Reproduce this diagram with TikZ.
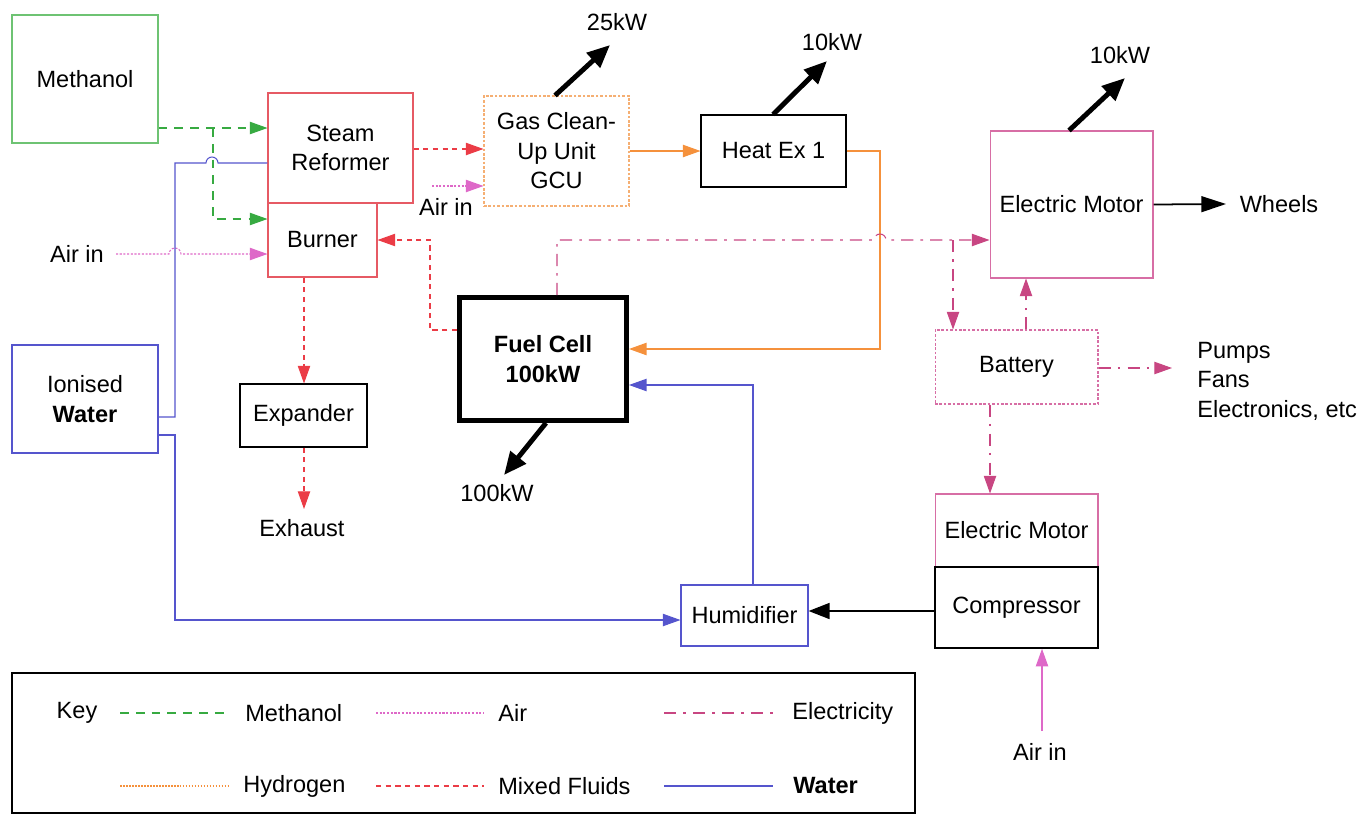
\documentclass[tikz,border=0pt]{standalone}
\usepackage{fontspec}
\setmainfont{Liberation Sans}
\usetikzlibrary{arrows.meta}
\definecolor{cgreen}{RGB}{55,170,65}
\definecolor{cgreenbox}{RGB}{110,195,115}
\definecolor{cred}{RGB}{235,60,70}
\definecolor{credbox}{RGB}{230,90,100}
\definecolor{cpink}{RGB}{222,105,200}
\definecolor{corange}{RGB}{245,145,60}
\definecolor{corangebox}{RGB}{245,175,115}
\definecolor{cblue}{RGB}{85,85,205}
\definecolor{celec}{RGB}{200,70,130}
\definecolor{cbox}{RGB}{215,110,165}
\begin{document}
\begin{tikzpicture}[x=0.02cm,y=-0.02cm,
  font=\fontsize{13.4}{16.8}\selectfont,
  box/.style={draw, rectangle, inner sep=0pt, align=center, line width=0.6pt},
  lbl/.style={inner sep=0pt, align=center},
  tip/.style={-{Triangle[length=10pt,width=7pt]}},
  methl/.style={cgreen, line width=0.6pt, dash pattern=on 5pt off 4pt},
  airl/.style={cpink, line width=0.6pt, dash pattern=on 1.2pt off 0.9pt},
  h2l/.style={corange, line width=0.7pt},
  mixl/.style={cred, line width=0.6pt, dash pattern=on 3pt off 2.5pt},
  elecl/.style={celec, line width=0.6pt, dash pattern=on 7pt off 4pt on 1.5pt off 4pt},
  waterl/.style={cblue, line width=0.6pt},
  power/.style={line width=2.8pt, -{Triangle[length=13pt,width=11pt]}},
]
\useasboundingbox (0,0) rectangle (1365,815);

% ---------- boxes ----------
\node[box, draw=cgreenbox, minimum width=2.92cm, minimum height=2.56cm] (meth) at (85,79) {Methanol};
\node[box, draw=credbox, minimum width=2.90cm, minimum height=2.20cm] (sr) at (340.5,148) {Steam\\Reformer};
\node[box, draw=credbox, minimum width=2.18cm, minimum height=1.48cm] (burner) at (322.5,240) {Burner};
\node[box, draw=corangebox, dash pattern=on 1.5pt off 1pt, minimum width=2.90cm, minimum height=2.20cm] (gcu) at (556.5,151) {Gas Clean-\\Up Unit\\GCU};
\node[box, minimum width=2.90cm, minimum height=1.44cm] (hx) at (773.5,151) {Heat Ex 1};
\node[box, draw=cbox, minimum width=3.26cm, minimum height=2.94cm] (em1) at (1071.5,204.5) {Electric Motor};
\node[box, draw=cbox, dash pattern=on 1.5pt off 1pt, minimum width=3.26cm, minimum height=1.48cm] (bat) at (1016.5,367) {Battery};
\node[box, draw=cblue, minimum width=2.92cm, minimum height=2.16cm] (water) at (85,399) {Ionised\\\textbf{Water}};
\node[box, minimum width=2.54cm, minimum height=1.26cm] (exp) at (303.5,415.5) {Expander};
\node[box, line width=2.8pt, minimum width=3.34cm, minimum height=2.46cm] (fc) at (543,359) {\textbf{Fuel Cell}\\\textbf{100kW}};
\node[box, draw=cbox, minimum width=3.26cm, minimum height=1.46cm] (em2) at (1016.5,530.5) {Electric Motor};
\node[box, line width=0.9pt, minimum width=3.26cm, minimum height=1.62cm] (comp) at (1016.5,607.5) {Compressor};
\node[box, draw=cblue, minimum width=2.54cm, minimum height=1.22cm] (hum) at (744.5,615.5) {Humidifier};

% ---------- labels ----------
\node[lbl] (airL) at (77,254) {Air in};
\node[lbl] (airG) at (446,207) {Air in};
\node[lbl] (airC) at (1040,752) {Air in};
\node[lbl] (exh) at (302,528) {Exhaust};
\node[lbl] (wheels) at (1279,204) {Wheels};
\node[lbl, anchor=west, align=left] (pumps) at (1197,381) {Pumps\\Fans\\Electronics, etc};
\node[lbl] (p25) at (617,22) {25kW};
\node[lbl] (p10a) at (832,42) {10kW};
\node[lbl] (p10b) at (1120,55) {10kW};
\node[lbl] (p100) at (497,493) {100kW};

% ---------- coordinates ----------
\coordinate (yM) at (0,128);
\coordinate (jM) at (213,128);
\coordinate (yMB) at (0,219);
\coordinate (aS) at (116,254);
\coordinate (yA) at (0,254);
\coordinate (yW1) at (0,417);
\coordinate (yW2) at (0,163);
\coordinate (yW3) at (0,435);
\coordinate (yH) at (0,620);
\coordinate (ySR) at (0,149);
\coordinate (airGs) at (432,186);
\coordinate (cH) at (880,349);
\coordinate (cF) at (430,330);
\coordinate (eF) at (557,240);
\coordinate (eB) at (953,240);
\coordinate (xBU) at (1026,0);
\coordinate (xBD) at (990,0);
\coordinate (pT) at (1172,368);
\coordinate (wT) at (1226,204);
\coordinate (yC) at (0,611);
\coordinate (cHu) at (753,385);
\coordinate (xEx) at (304,0);
\coordinate (exT) at (304,509);
\coordinate (aC) at (1042,731);
\coordinate (t25) at (610,45);
\coordinate (t10a) at (827,61);
\coordinate (t10b) at (1125,78);
\coordinate (t100) at (504,475);

% ---------- connectors ----------
% methanol
\draw[methl, tip] (meth.east |- yM) -- (sr.west |- yM);
\draw[methl, tip] (jM) |- (burner.west |- yMB);
% air in to burner (hop over water)
\draw[airl, tip] (aS) -- (169,254) arc[start angle=180,end angle=360,radius=6] -- (burner.west |- yA);
% water to reformer (hop over methanol)
\draw[waterl] (water.east |- yW1) -- (175,417) -- (175,163) -- (206,163) arc[start angle=180,end angle=360,radius=6] -- (sr.west |- yW2);
% water to humidifier
\draw[waterl, tip] (water.east |- yW3) -- (175,435) |- (hum.west |- yH);
% reformer to GCU
\draw[mixl, tip] (sr.east |- ySR) -- (gcu.west |- ySR);
% air in to GCU
\draw[airl, tip] (airGs) -- (gcu.west |- airGs);
% GCU to heat ex
\draw[h2l, tip] (gcu.east) -- (hx.west);
% heat ex to fuel cell
\draw[h2l, tip] (hx.east) -| (cH) -- (fc.east |- cH);
% fuel cell to burner
\draw[mixl, tip] (fc.west |- cF) -- (cF) |- (burner.east);
% burner to expander to exhaust
\draw[mixl, tip] (burner.south -| xEx) -- (exp.north -| xEx);
\draw[mixl, tip] (exp.south -| xEx) -- (exT);
% electricity
\draw[elecl, tip] (fc.north -| eF) -- (eF) -- (874,240) arc[start angle=180,end angle=360,radius=6] -- (em1.west |- eF);
\draw[elecl, tip] (eB) -- (bat.north -| eB);
\draw[elecl, tip] (bat.north -| xBU) -- (em1.south -| xBU);
\draw[elecl, tip] (bat.east |- pT) -- (pT);
\draw[elecl, tip] (bat.south -| xBD) -- (em2.north -| xBD);
% motor to wheels
\draw[line width=1pt, -{Triangle[length=14pt,width=9pt]}] (em1.east) -- (wT);
% compressor to humidifier
\draw[line width=1.3pt, -{Triangle[length=12pt,width=9pt]}] (comp.west |- yC) -- (hum.east |- yC);
% humidifier to fuel cell
\draw[waterl, tip] (hum.north -| cHu) -- (cHu) -- (fc.east |- cHu);
% air in to compressor
\draw[cpink, line width=0.7pt, tip] (aC) -- (comp.south -| aC);
% power outputs
\draw[power] (gcu.north -| 555,0) -- (t25);
\draw[power] (hx.north -| 773,0) -- (t10a);
\draw[power] (em1.north -| 1069,0) -- (t10b);
\draw[power] (fc.south -| 546,0) -- (t100);

% ---------- legend ----------
\draw[line width=0.9pt] (12,673) rectangle (915,813);
\node[lbl] (key) at (77,713) {Key};
\draw[methl] (120,713) -- (228,713);
\node[lbl, anchor=west] (lM) at (245,713) {Methanol};
\draw[airl] (376,713) -- (484,713);
\node[lbl, anchor=west] (lA) at (498,713) {Air};
\draw[elecl] (664,713) -- (773,713);
\node[lbl, anchor=west] (lE) at (792,713) {Electricity};
\draw[h2l, dash pattern=on 1pt off 0.7pt] (120,786) -- (228,786);
\node[lbl, anchor=west] (lH) at (243,786) {Hydrogen};
\draw[mixl] (376,786) -- (484,786);
\node[lbl, anchor=west] (lX) at (498,786) {Mixed Fluids};
\draw[waterl] (664,786) -- (773,786);
\node[lbl, anchor=west] (lW) at (793,786) {\textbf{Water}};
\end{tikzpicture}
\end{document}
